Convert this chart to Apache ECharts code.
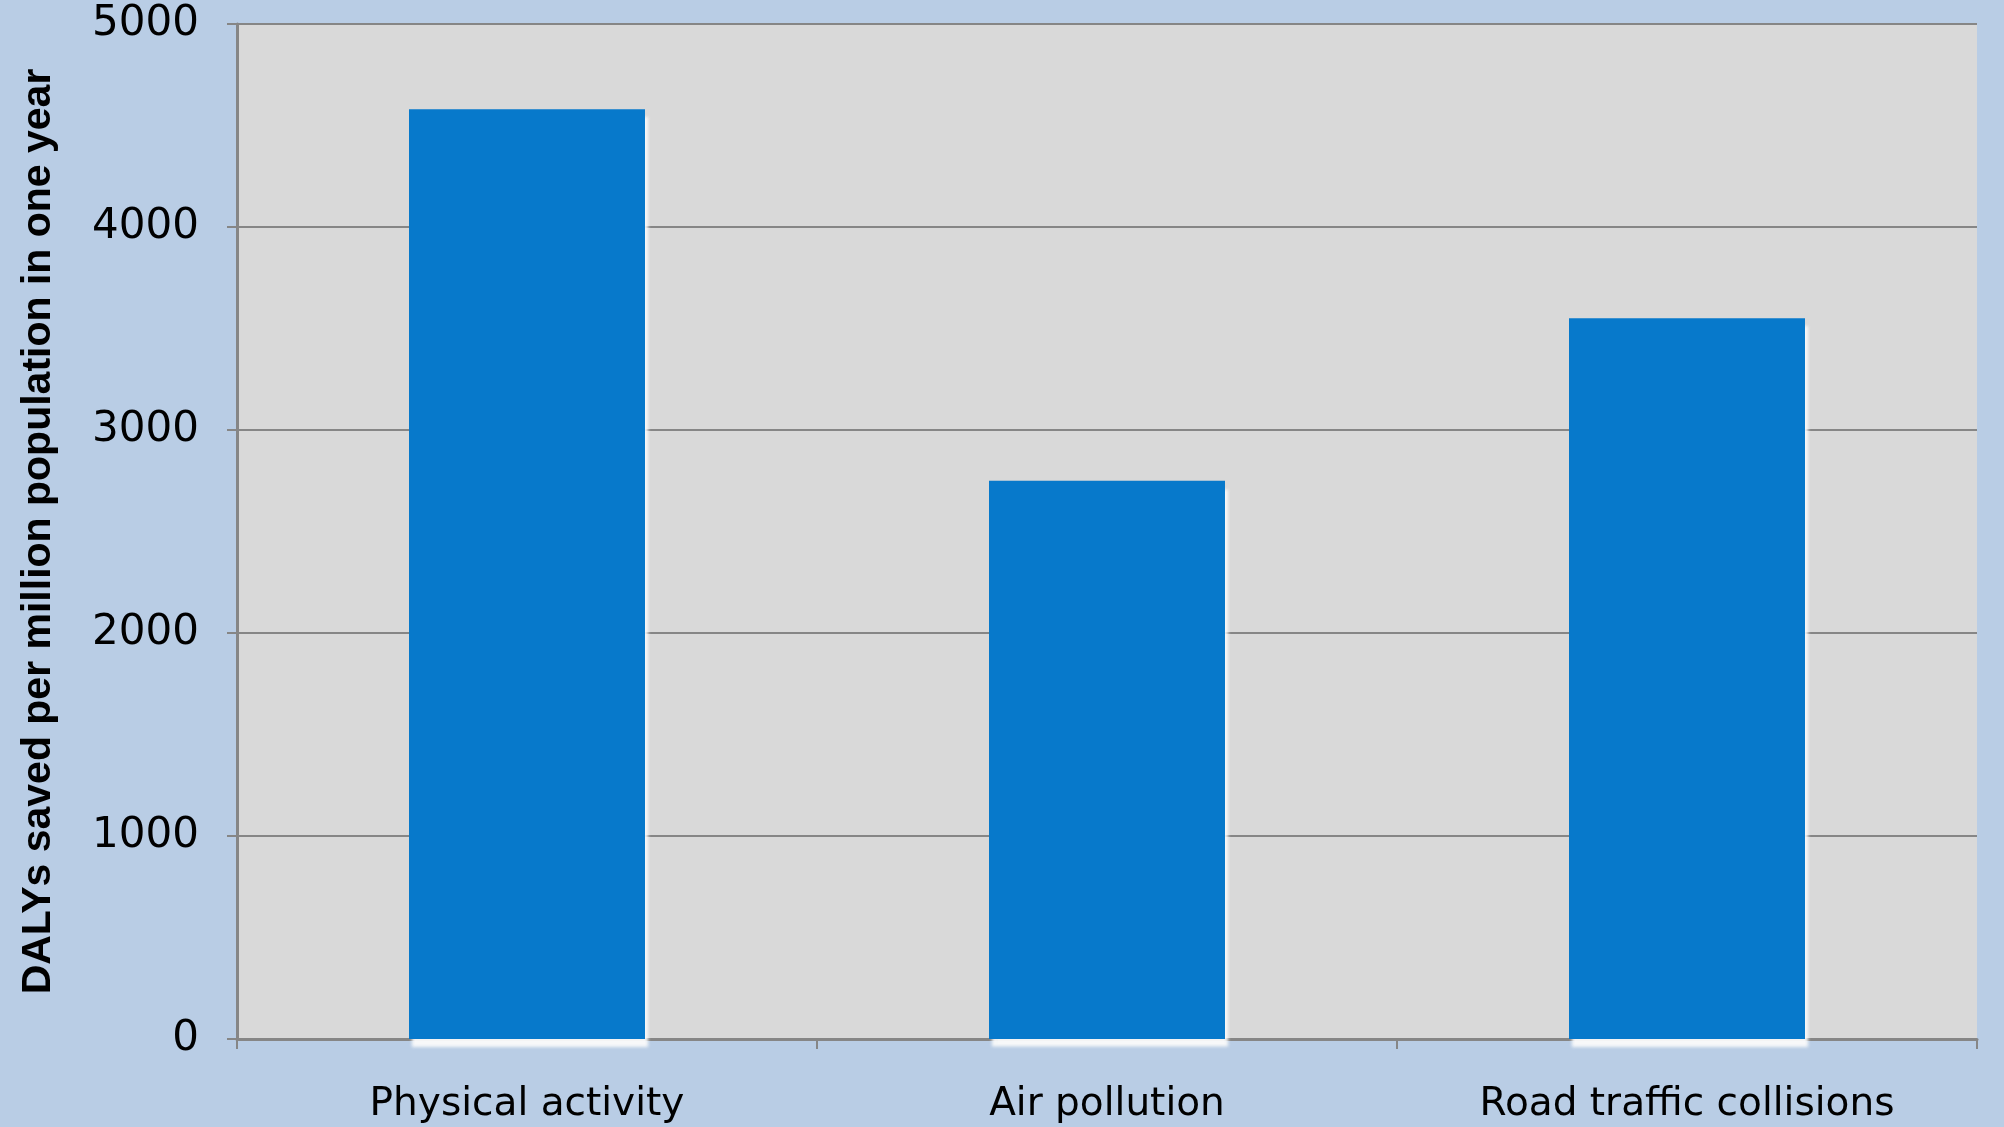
<!DOCTYPE html>
<html>
<head>
<meta charset="utf-8">
<style>
  html, body { margin: 0; padding: 0; background: #B9CDE5; }
  #chart { width: 2004px; height: 1127px; }
</style>
<script src="https://cdn.jsdelivr.net/npm/echarts@6/dist/echarts.min.js"></script>
</head>
<body>
<div id="chart"></div>
<script>
// Health benefits by pathway (DALYs saved per million population, one year)
const categories = ['Physical activity', 'Air pollution', 'Road traffic collisions'];
const dalysSaved = [4580, 2750, 3550];
const yTicks = [0, 1000, 2000, 3000, 4000, 5000];

const chart = echarts.init(document.getElementById('chart'), null, { renderer: 'canvas' });

chart.setOption({
  backgroundColor: '#B9CDE5',
  animation: false,
  grid: {
    left: 237, right: 27, top: 24, bottom: 88,
    show: true, backgroundColor: '#D9D9D9', borderWidth: 0
  },
  xAxis: {
    type: 'category',
    data: categories,
    axisLine: { lineStyle: { color: '#868686', width: 3 } },
    axisTick: { show: true, length: 10, lineStyle: { color: '#868686', width: 2 } },
    axisLabel: {
      color: '#000', fontFamily: 'DejaVu Sans', fontSize: 39, margin: 46
    }
  },
  yAxis: {
    type: 'value',
    min: yTicks[0],
    max: yTicks[yTicks.length - 1],
    interval: 1000,
    name: 'DALYs saved per million population in one year',
    nameLocation: 'middle',
    nameGap: 178,
    nameTextStyle: {
      color: '#000', fontFamily: 'Liberation Sans', fontWeight: 'bold', fontSize: 41
    },
    axisLine: { show: true, lineStyle: { color: '#868686', width: 3 } },
    axisTick: { show: true, length: 10, lineStyle: { color: '#868686', width: 2 } },
    axisLabel: {
      color: '#000', fontFamily: 'DejaVu Sans', fontSize: 42, margin: 38,
      formatter: v => String(v)
    },
    splitLine: { lineStyle: { color: '#868686', width: 2 } }
  },
  series: [{
    type: 'bar',
    data: dalysSaved,
    barWidth: 236,
    itemStyle: {
      color: '#0779CB',
      shadowColor: 'rgba(250,250,250,0.95)',
      shadowBlur: 3,
      shadowOffsetX: 3,
      shadowOffsetY: 8
    }
  }]
});
</script>
</body>
</html>
